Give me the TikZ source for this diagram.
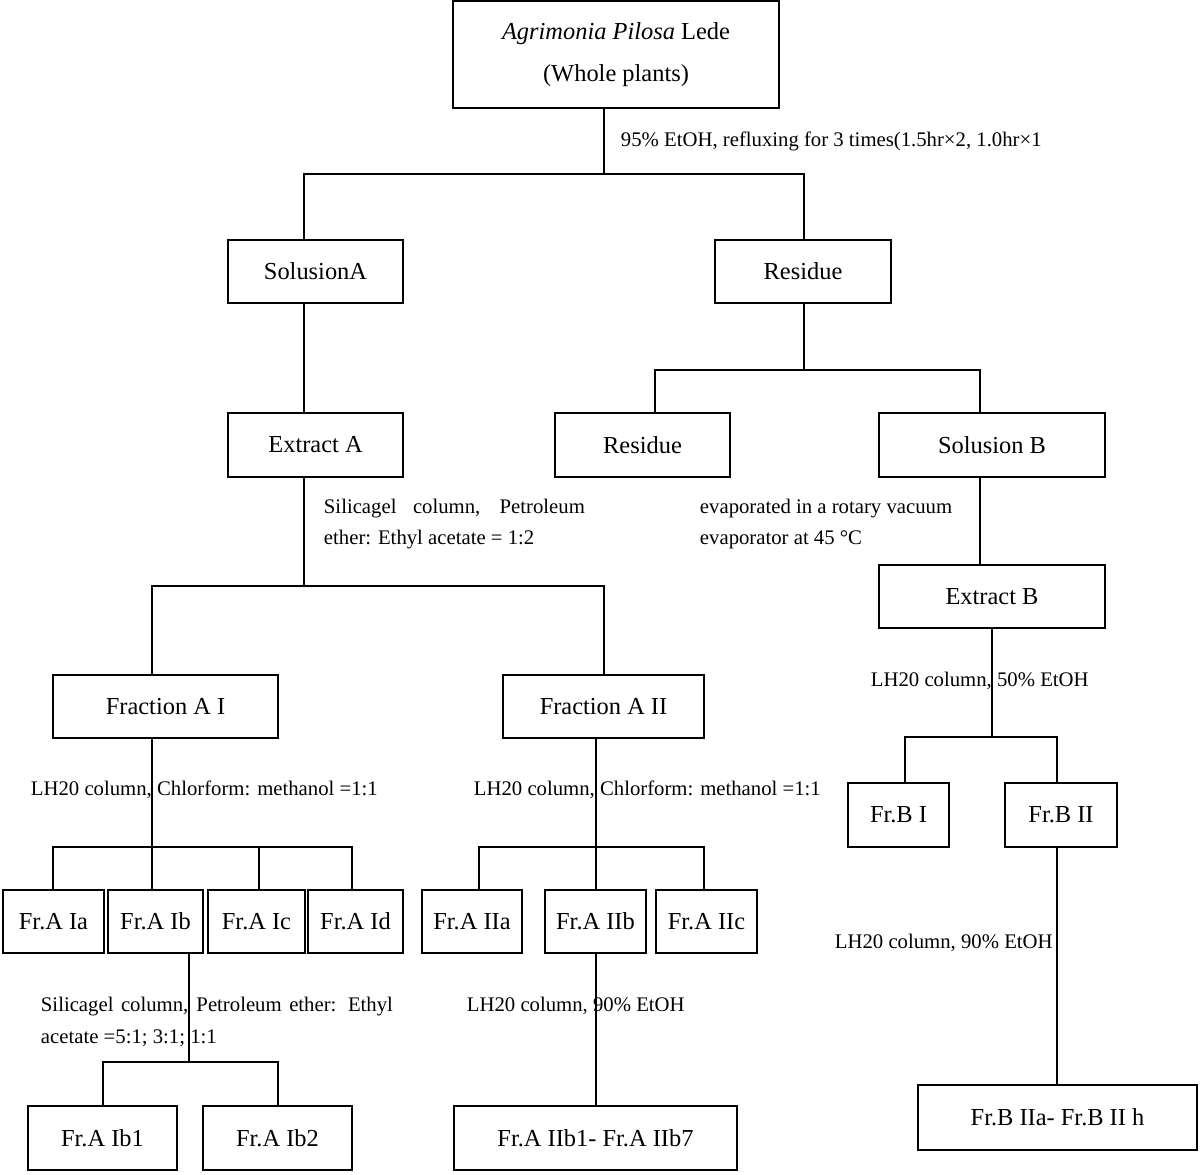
\documentclass[tikz,border=0pt]{standalone}
\usepackage{fontspec}
\setmainfont{Liberation Serif}
\usetikzlibrary{positioning}
\newcommand{\boxfont}{\fontsize{13.9}{24}\selectfont}
\newcommand{\notefont}{\fontsize{11.8}{18.1}\selectfont}

\begin{document}
\begin{tikzpicture}[
  x=0.02cm, y=-0.02cm, line width=1.1pt,
  box/.style={draw, minimum height=1.27cm, inner sep=0pt, align=center, font=\boxfont},
  note/.style={anchor=west, inner sep=0pt, align=left, font=\notefont}
]
\useasboundingbox (0,0) rectangle (1200,1175);

\node[box, minimum width=6.52cm, minimum height=2.14cm] (plant) at (616,54.5) {\textit{Agrimonia Pilosa} Lede\\(Whole plants)};
\node[box, minimum width=3.5cm] (solA) at (315.5,271.5) {SolusionA};
\node[box, minimum width=3.52cm] (resA) at (803,271.5) {Residue};
\node[box, minimum width=3.5cm] (extA) at (315.5,445) {Extract A};
\node[box, minimum width=3.5cm] (resB) at (642.5,445) {Residue};
\node[box, minimum width=4.52cm] (solB) at (992,445) {Solusion B};
\node[box, minimum width=4.52cm] (extB) at (992,596.5) {Extract B};
\node[box, minimum width=4.5cm] (fAI) at (165.5,706.5) {Fraction A I};
\node[box, minimum width=4.02cm] (fAII) at (603.5,706.5) {Fraction A II};
\node[box, minimum width=2.02cm] (fBI) at (898.5,815) {Fr.B I};
\node[box, minimum width=2.24cm] (fBII) at (1061,815) {Fr.B II};
\node[box, minimum width=2.02cm] (fAIa) at (53.5,921.5) {Fr.A Ia};
\node[box, minimum width=1.9cm] (fAIb) at (155.5,921.5) {Fr.A Ib};
\node[box, minimum width=1.94cm] (fAIc) at (256.5,921.5) {Fr.A Ic};
\node[box, minimum width=1.9cm] (fAId) at (355.5,921.5) {Fr.A Id};
\node[box, minimum width=2cm] (fAIIa) at (472,921.5) {Fr.A IIa};
\node[box, minimum width=2.02cm] (fAIIb) at (595.5,921.5) {Fr.A IIb};
\node[box, minimum width=2.02cm] (fAIIc) at (706.5,921.5) {Fr.A IIc};
\node[box, minimum width=2.98cm] (fAIb1) at (102.5,1138) {Fr.A Ib1};
\node[box, minimum width=2.98cm] (fAIb2) at (277.5,1138) {Fr.A Ib2};
\node[box, minimum width=5.66cm] (fAIIbx) at (595.5,1138) {Fr.A IIb1- Fr.A IIb7};
\node[box, minimum width=5.58cm, minimum height=1.3cm] (fBIIx) at (1057.5,1117.5) {Fr.B IIa- Fr.B II h};

\node[note] (ethanol) at (620,141) {95\% EtOH, refluxing for 3 times(1.5hr×2, 1.0hr×1};
\node[note] (silA) at (323,524) {\makebox[5.22cm][s]{Silicagel column, Petroleum}\\ether: Ethyl acetate = 1:2};
\node[note] (evap) at (699,524) {evaporated in a rotary vacuum\\evaporator at 45 °C};
\node[note] (lhB) at (870,681) {LH20 column, 50\% EtOH};
\node[note] (lhAI) at (30,790) {LH20 column, Chlorform: methanol =1:1};
\node[note] (lhAII) at (473,790) {LH20 column, Chlorform: methanol =1:1};
\node[note] (silAIb) at (40,1022) {\makebox[7.04cm][s]{Silicagel column, Petroleum ether: Ethyl}\\acetate =5:1; 3:1; 1:1};
\node[note] (lhAIIb) at (466,1006) {LH20 column, 90\% EtOH};
\node[note] (lhBII) at (834,943) {LH20 column, 90\% EtOH};

\coordinate (bar1) at (604,174);
\coordinate (bar2) at (804,370);
\coordinate (bar3) at (304,586);
\coordinate (bar4) at (992,737);
\coordinate (bar5) at (152,847);
\coordinate (bar6) at (596,847);
\coordinate (bar7) at (189,1062);

\draw (plant.south -| bar1) -- (bar1);
\draw (bar1) -| (solA.north -| 304,0);
\draw (bar1) -| (resA.north -| 804,0);
\draw (solA.south -| 304,0) -- (extA.north -| 304,0);

\draw (resA.south -| bar2) -- (bar2);
\draw (bar2) -| (resB.north -| 655,0);
\draw (bar2) -| (solB.north -| 980,0);
\draw (solB.south -| 980,0) -- (extB.north -| 980,0);

\draw (extA.south -| bar3) -- (bar3);
\draw (bar3) -| (fAI.north -| 152,0);
\draw (bar3) -| (fAII.north -| 604,0);

\draw (extB.south -| bar4) -- (bar4);
\draw (bar4) -| (fBI.north -| 905,0);
\draw (bar4) -| (fBII.north -| 1057,0);
\draw (fBII.south -| 1057,0) -- (fBIIx.north -| 1057,0);

\draw (fAI.south -| bar5) -- (bar5);
\draw (bar5) -| (fAIa.north -| 53,0);
\draw (bar5) -- (fAIb.north -| 152,0);
\draw (bar5) -| (fAIc.north -| 259,0);
\draw (bar5) -| (fAId.north -| 352,0);

\draw (fAII.south -| bar6) -- (bar6);
\draw (bar6) -| (fAIIa.north -| 479,0);
\draw (bar6) -- (fAIIb.north -| 596,0);
\draw (bar6) -| (fAIIc.north -| 704,0);
\draw (fAIIb.south -| 596,0) -- (fAIIbx.north -| 596,0);

\draw (fAIb.south -| bar7) -- (bar7);
\draw (bar7) -| (fAIb1.north -| 103,0);
\draw (bar7) -| (fAIb2.north -| 278,0);
\end{tikzpicture}
\end{document}
